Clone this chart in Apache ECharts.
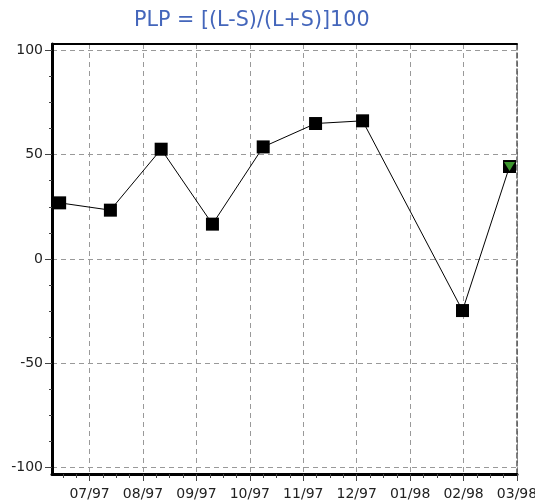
<!DOCTYPE html>
<html>
<head>
<meta charset="utf-8">
<script src="https://cdn.jsdelivr.net/npm/echarts@6/dist/echarts.min.js"></script>
<style>
html, body { margin: 0; padding: 0; background: #fff; }
#main { width: 535px; height: 503px; }
</style>
</head>
<body>
<div id="main"></div>
<script>
// month labels sit on x = 1..9
var monthLabels = ['07/97', '08/97', '09/97', '10/97', '11/97', '12/97', '01/98', '02/98', '03/98'];
var monthTicks = [1, 2, 3, 4, 5, 6, 7, 8, 9];
// position of each reading in months (1 = 07/97) and its PLP value
var xPos = [0.44, 1.39, 2.34, 3.30, 4.25, 5.23, 6.11, 7.98, 8.86];
var plp = [26.9, 23.4, 52.6, 16.7, 53.7, 64.9, 66.2, -24.7, 44.3];
var yTicks = [-100, -50, 0, 50, 100];

var xMin = 0.297, xMax = 9;
var yMin = -103, yMax = 103;

// minor ticks: 4 per month, 4 per 50
var xMinor = [];
for (var m = 0; m <= 9; m += 0.25) {
  if (m > xMin && m < xMax && m % 1 !== 0) xMinor.push(m);
}
var yMinor = [];
for (var v = -100; v <= 100; v += 12.5) {
  if (v % 50 !== 0) yMinor.push(v);
}

var points = xPos.map(function (x, i) { return [x, plp[i]]; });
var last = points[points.length - 1];

var font = 'DejaVu Sans, Arial, sans-serif';

var option = {
  animation: false,
  title: {
    text: 'PLP = [(L-S)/(L+S)]100',
    left: 134,
    top: 10,
    padding: 0,
    textStyle: { color: '#4466bb', fontSize: 20.7, fontWeight: 'normal', fontFamily: font }
  },
  grid: { left: 52, right: 18, top: 44, bottom: 29, containLabel: false, outerBoundsMode: 'none' },
  xAxis: [
    {
      type: 'value', min: xMin, max: xMax, position: 'bottom',
      axisLine: { onZero: false, lineStyle: { color: '#000', width: 3 } },
      axisTick: { customValues: monthTicks, length: 7, lineStyle: { color: '#444' } },
      axisLabel: {
        customValues: monthTicks, margin: 13, fontSize: 14, color: '#222', fontFamily: font,
        formatter: function (val) { return monthLabels[Math.round(val) - 1]; }
      },
      splitLine: { show: true, lineStyle: { color: '#999', type: [5, 4], width: 1 } }
    },
    {
      type: 'value', min: xMin, max: xMax, position: 'bottom',
      axisLine: { show: false, onZero: false },
      axisTick: { customValues: xMinor, length: 4, lineStyle: { color: '#444' } },
      axisLabel: { show: false },
      splitLine: { show: false }
    },
    {
      type: 'value', min: xMin, max: xMax, position: 'top',
      axisLine: { onZero: false, lineStyle: { color: '#000', width: 2 } },
      axisTick: { show: false },
      axisLabel: { show: false },
      splitLine: { show: false }
    }
  ],
  yAxis: [
    {
      type: 'value', min: yMin, max: yMax, position: 'left',
      axisLine: { show: true, onZero: false, lineStyle: { color: '#000', width: 3 } },
      axisTick: { show: true, customValues: yTicks, length: 7, lineStyle: { color: '#444' } },
      axisLabel: { customValues: yTicks, margin: 9, fontSize: 14, color: '#222', fontFamily: font },
      splitLine: { show: true, lineStyle: { color: '#999', type: [5, 4], width: 1 } }
    },
    {
      type: 'value', min: yMin, max: yMax, position: 'left',
      axisLine: { show: false, onZero: false },
      axisTick: { show: true, customValues: yMinor, length: 3, lineStyle: { color: '#444' } },
      axisLabel: { show: false },
      splitLine: { show: false }
    },
    {
      type: 'value', min: yMin, max: yMax, position: 'right',
      axisLine: { show: true, onZero: false, lineStyle: { color: '#555', width: 1.5, type: [5, 3] } },
      axisTick: { show: false },
      axisLabel: { show: false },
      splitLine: { show: false }
    }
  ],
  series: [
    {
      type: 'line',
      xAxisIndex: 0, yAxisIndex: 0,
      data: points,
      symbol: 'rect',
      symbolSize: 13,
      itemStyle: { color: '#000' },
      lineStyle: { color: '#000', width: 1 },
      z: 3
    },
    {
      type: 'scatter',
      xAxisIndex: 0, yAxisIndex: 0,
      data: [last],
      symbol: 'triangle',
      symbolRotate: 180,
      symbolSize: [11, 9],
      itemStyle: { color: '#4cbb3a' },
      z: 4
    }
  ]
};

var chart = echarts.init(document.getElementById('main'));
chart.setOption(option);
</script>
</body>
</html>
